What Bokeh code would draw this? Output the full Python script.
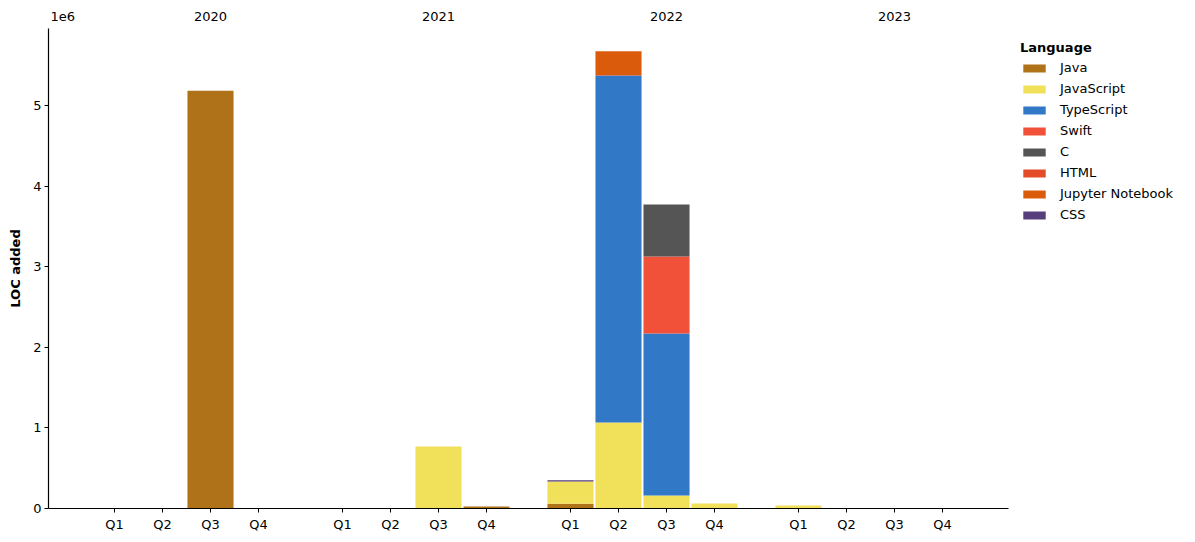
from bokeh.plotting import figure
from bokeh.models import ColumnDataSource, FixedTicker, LinearAxis, Legend, Range1d
from bokeh.embed import file_html
from bokeh.resources import INLINE

years = ["2020", "2021", "2022", "2023"]
quarters = ["Q1", "Q2", "Q3", "Q4"]
languages = ["Java", "JavaScript", "TypeScript", "Swift", "C", "HTML", "Jupyter Notebook", "CSS"]
colors = ["#B07219", "#F1E05A", "#3178C6", "#F05138", "#555555", "#E34C26", "#DA5B0B", "#563D7C"]

# values per quarter, year-major (2020 Q1..Q4, 2021 Q1..Q4, ...)
java       = [0, 0, 5180000, 0,   0, 0, 0, 25000,       60000, 0, 0, 0,              0, 0, 0, 0]
javascript = [0, 0, 0, 0,         0, 0, 770000, 0,      275000, 1067000, 161000, 62000, 37000, 0, 0, 0]
typescript = [0, 0, 0, 0,         0, 0, 0, 0,           0, 4305000, 2010000, 0,      0, 0, 0, 0]
swift      = [0, 0, 0, 0,         0, 0, 0, 0,           0, 0, 956000, 0,            0, 0, 0, 0]
c_lang     = [0, 0, 0, 0,         0, 0, 0, 0,           0, 0, 645000, 0,            0, 0, 0, 0]
html       = [0, 0, 0, 0,         0, 0, 0, 0,           0, 5000, 0, 0,              0, 0, 0, 0]
jupyter    = [0, 0, 0, 0,         0, 0, 0, 0,           0, 293000, 0, 0,            0, 0, 0, 0]
css        = [0, 0, 0, 0,         0, 0, 0, 0,           15000, 0, 0, 0,             0, 0, 0, 0]

YEAR_STEP = 4.75
xs = [yi * YEAR_STEP + qi for yi in range(len(years)) for qi in range(len(quarters))]
qlabels = [q for _ in years for q in quarters]
year_pos = [yi * YEAR_STEP + 2 for yi in range(len(years))]

series = [java, javascript, typescript, swift, c_lang, html, jupyter, css]
data = {"x": xs}
for lang, vals in zip(languages, series):
    data[lang] = vals
source = ColumnDataSource(data)

totals = [sum(v) for v in zip(*series)]
ymax = max(totals) * 1.05

FONT = "DejaVu Sans"
FS = "13px"
TC = "black"

p = figure(frame_width=960, frame_height=480, output_backend="svg", toolbar_location=None,
           x_range=Range1d(-1.375, xs[-1] + 1.375), y_range=Range1d(0, ymax),
           min_border_left=48, min_border_top=28, min_border_bottom=20, min_border_right=0,
           x_axis_location="below")
p.outline_line_color = None
p.xgrid.visible = False
p.ygrid.visible = False
p.background_fill_color = "white"

renderers = p.vbar_stack(languages, x="x", width=0.96, color=colors, source=source, line_color=None)

# axes
xa = p.xaxis[0]
xa.ticker = FixedTicker(ticks=xs)
xa.major_label_overrides = {float(x) if x != int(x) else int(x): q for x, q in zip(xs, qlabels)}
xa.minor_tick_line_color = None
xa.major_tick_out = 4
xa.major_tick_in = 0
xa.axis_line_width = 1.2
xa.axis_line_color = TC
xa.major_tick_line_color = TC
xa.major_label_text_font = FONT
xa.major_label_text_font_size = FS
xa.major_label_text_color = TC
xa.major_label_standoff = 4

ya = p.yaxis[0]
ya.ticker = FixedTicker(ticks=[i * 1e6 for i in range(6)])
ya.major_label_overrides = {i * 1000000: str(i) for i in range(6)}
ya.minor_tick_line_color = None
ya.major_tick_out = 4
ya.major_tick_in = 0
ya.axis_line_width = 1.2
ya.axis_line_color = TC
ya.major_tick_line_color = TC
ya.major_label_text_font = FONT
ya.major_label_text_font_size = FS
ya.major_label_text_color = TC
ya.major_label_standoff = 3
ya.axis_label = "LOC added"
ya.axis_label_text_font = FONT
ya.axis_label_text_font_size = FS
ya.axis_label_text_font_style = "bold"
ya.axis_label_text_color = TC
ya.axis_label_standoff = 7

# top axis: year labels plus the scale marker "1e6" near the left edge
OFFSET_POS = -1.08
top_ticks = [OFFSET_POS] + year_pos
top_overrides = {OFFSET_POS: "1e6"}
for v, y in zip(year_pos, years):
    top_overrides[int(v) if v == int(v) else v] = y
top = LinearAxis(ticker=FixedTicker(ticks=top_ticks), major_label_overrides=top_overrides)
top.axis_line_color = None
top.major_tick_line_color = None
top.minor_tick_line_color = None
top.major_label_text_font = FONT
top.major_label_text_font_size = FS
top.major_label_text_color = TC
top.major_label_standoff = 2
p.add_layout(top, "above")

legend = Legend(items=[(lang, [r]) for lang, r in zip(languages, renderers)],
                location="top_left", title="Language")
legend.title_text_font = FONT
legend.title_text_font_size = FS
legend.title_text_font_style = "bold"
legend.title_text_color = TC
legend.label_text_font = FONT
legend.label_text_font_size = FS
legend.label_text_color = TC
legend.glyph_width = 28
legend.glyph_height = 10
legend.label_height = 13
legend.spacing = 6
legend.margin = 12
legend.padding = 8
legend.border_line_color = None
legend.background_fill_alpha = 0
legend.label_standoff = 12
legend.title_standoff = 5
p.add_layout(legend, "right")

open("out.html", "w").write(file_html(p, INLINE))
